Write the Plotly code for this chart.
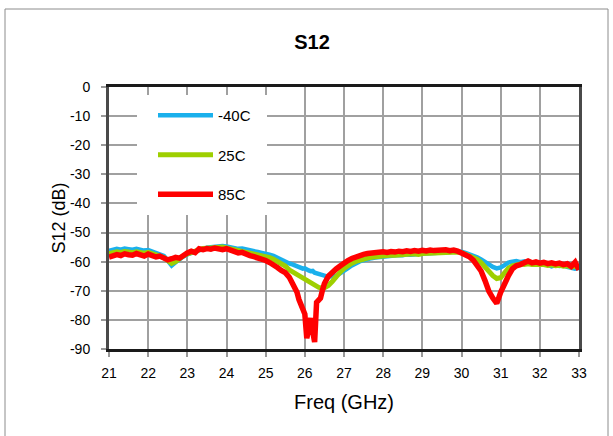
import plotly.graph_objects as go

freq_ghz = [
    21.0, 21.1, 21.2, 21.3, 21.4, 21.5, 21.6, 21.7, 21.8, 21.9,
    22.0, 22.1, 22.2, 22.3, 22.4, 22.5, 22.6, 22.7, 22.8, 22.9,
    23.0, 23.1, 23.2, 23.3, 23.4, 23.5, 23.6, 23.7, 23.8, 23.9,
    24.0, 24.1, 24.2, 24.3, 24.4, 24.5, 24.6, 24.7, 24.8, 24.9,
    25.0, 25.1, 25.2, 25.3, 25.4, 25.5, 25.6, 25.7, 25.8,
    25.85, 25.9, 25.95, 26.0, 26.05, 26.1, 26.15, 26.2, 26.25, 26.3, 26.35, 26.4, 26.45,
    26.5, 26.6, 26.7, 26.8, 26.9,
    27.0, 27.1, 27.2, 27.3, 27.4, 27.5, 27.6, 27.7, 27.8, 27.9,
    28.0, 28.1, 28.2, 28.3, 28.4, 28.5, 28.6, 28.7, 28.8, 28.9,
    29.0, 29.1, 29.2, 29.3, 29.4, 29.5, 29.6, 29.7, 29.8, 29.9,
    30.0, 30.1, 30.2, 30.3, 30.4, 30.5, 30.6, 30.7, 30.8, 30.9,
    31.0, 31.1, 31.2, 31.3, 31.4, 31.5, 31.6, 31.7, 31.8, 31.9,
    32.0, 32.1, 32.2, 32.3, 32.4, 32.5, 32.6, 32.7, 32.8, 32.9,
    33.0,
]

s12_m40c = [
    -56.3, -56.0, -55.6, -55.9, -55.5, -55.7, -55.9, -55.6, -56.0, -56.2,
    -56.0, -56.4, -56.8, -57.3, -58.0, -59.6, -61.3, -60.2, -59.0, -58.2,
    -57.5, -57.0, -56.3, -55.9, -55.4, -55.2, -55.0, -54.8, -54.9, -54.6,
    -54.8, -55.1, -55.3, -55.6, -55.5, -55.9, -56.2, -56.4, -56.7, -57.0,
    -57.2, -57.6, -58.0, -58.7, -59.2, -59.8, -60.6, -61.0, -61.6,
    -62.0, -62.2, -62.4, -62.3, -62.8, -63.0, -63.3, -63.2, -63.8, -64.0, -64.2, -64.4, -64.8,
    -64.6, -65.2, -65.0, -64.8, -64.0,
    -63.3, -62.2, -61.3, -60.5, -59.9, -59.5, -59.0, -58.8, -58.6, -58.4,
    -58.2, -58.0, -57.9, -57.8, -57.7, -57.8, -57.5, -57.6, -57.4, -57.5,
    -57.3, -57.2, -57.0, -57.1, -56.9, -56.8, -56.9, -56.7, -56.6, -56.5,
    -56.6, -57.0, -57.4, -57.9, -58.5, -59.2, -60.2, -61.0, -61.8, -62.3,
    -62.0, -61.2, -60.3, -60.0, -59.8, -60.2, -59.9, -60.4, -60.3, -60.6,
    -60.8, -60.7, -61.0, -61.6, -61.2, -61.5, -61.3, -61.8, -62.0, -62.4,
    -62.2,
]

s12_25c = [
    -57.2, -56.9, -56.6, -56.8, -56.5, -56.7, -56.9, -56.6, -56.9, -57.1,
    -56.8, -57.3, -57.6, -58.0, -58.6, -59.6, -60.6, -60.0, -58.8, -58.0,
    -57.3, -56.8, -56.2, -55.9, -55.5, -55.4, -55.2, -55.0, -55.1, -55.0,
    -55.3, -55.6, -55.9, -56.2, -56.3, -56.7, -57.0, -57.2, -57.5, -57.8,
    -58.1, -58.6, -59.2, -59.9, -60.6, -61.5, -62.8, -63.6, -64.4,
    -64.8, -65.5, -65.8, -66.2, -66.6, -66.9, -67.3, -67.6, -68.1, -68.5, -68.8, -69.0, -69.3,
    -69.0, -68.2, -66.8, -65.0, -63.6,
    -62.3, -61.3, -60.5, -59.9, -59.4, -59.0, -58.8, -58.5, -58.3, -58.2,
    -58.0, -57.9, -57.7, -57.8, -57.6, -57.5, -57.6, -57.4, -57.3, -57.5,
    -57.2, -57.1, -57.0, -57.1, -56.9, -56.8, -56.9, -56.7, -56.8, -56.7,
    -56.9, -57.4, -57.9, -58.4, -59.2, -60.3, -62.0, -63.6, -64.8, -65.8,
    -65.5, -63.8, -62.2, -61.4, -61.0, -60.8, -61.0, -60.7, -61.0, -60.9,
    -61.1, -61.0, -61.3, -61.1, -61.4, -61.2, -61.6, -61.4, -61.8, -61.6,
    -62.0,
]

s12_85c = [
    -58.4, -58.0, -57.6, -57.9, -57.3, -57.6, -57.8, -57.2, -57.6, -58.1,
    -57.4, -57.8, -58.4, -58.1, -58.9, -59.4, -59.0, -58.5, -58.8, -57.6,
    -57.0, -56.4, -56.9, -55.6, -55.9, -55.5, -55.7, -55.3, -55.6, -55.9,
    -55.5, -56.1, -56.4, -57.0, -56.8, -57.5, -57.9, -58.3, -58.6, -59.2,
    -59.6, -60.3, -61.0, -62.0, -63.0, -63.8, -65.3, -67.5, -70.5,
    -73.0, -75.2, -76.5, -78.0, -86.3, -81.0, -79.4, -84.0, -87.6, -74.0, -73.0, -72.5, -69.8,
    -67.5, -65.0, -63.6, -62.5, -61.5,
    -60.3, -59.6, -58.9, -58.3, -57.8, -57.5, -57.2, -57.0, -56.8, -57.0,
    -56.6, -56.8, -56.5, -56.7, -56.4, -56.6, -56.3, -56.5, -56.2, -56.4,
    -56.1, -56.3, -56.0, -56.2, -56.0, -56.1, -55.9, -56.2, -56.0, -56.4,
    -56.9, -57.6, -58.3, -59.5, -61.0, -63.2, -66.5, -70.2, -72.5, -74.3,
    -70.5, -67.0, -64.8, -62.5, -61.4, -61.0, -60.2, -59.8, -60.4, -60.1,
    -60.5, -60.2, -60.7, -60.4, -60.8, -60.5, -61.0, -60.7, -61.6, -60.2,
    -62.8,
]

series_names = ["-40C", "25C", "85C"]
series_values = [s12_m40c, s12_25c, s12_85c]
series_colors = ["#1AB0EC", "#9ECF00", "#FF0000"]
series_widths = [4.5, 5, 5.5]

x_ticks = [21, 22, 23, 24, 25, 26, 27, 28, 29, 30, 31, 32, 33]
y_ticks = [0, -10, -20, -30, -40, -50, -60, -70, -80, -90]

fig = go.Figure()
for i, (name, vals, col, w) in enumerate(zip(series_names, series_values, series_colors, series_widths)):
    fig.add_trace(go.Scatter(
        x=freq_ghz, y=vals, mode="lines", name=name,
        line=dict(color=col, width=w),
        legendgroup=f"g{i}",
    ))

font_family = "Liberation Sans, Arial, sans-serif"
L, R, T, B = 109, 579, 87, 349
W, H = 613, 436
pw, ph = R - L, B - T

fig.update_layout(
    width=W, height=H,
    margin=dict(l=L, r=W - R, t=T, b=H - B),
    paper_bgcolor="white", plot_bgcolor="white",
    font=dict(family=font_family, color="black", size=14),
    title=dict(text="<b>S12</b>", x=312 / W, xanchor="center", y=1 - 42 / H, yanchor="middle",
               font=dict(size=20, family=font_family, color="black")),
    showlegend=True,
    legend=dict(
        x=(153 - L) / pw, y=(B - 99) / ph, xanchor="left", yanchor="top",
        bgcolor="white", borderwidth=0,
        font=dict(size=15, family=font_family, color="black"),
        tracegroupgap=17, itemwidth=55,
    ),
    xaxis=dict(
        range=[21, 33], tickvals=x_ticks, ticktext=[str(v) for v in x_ticks],
        showgrid=True, gridcolor="#a0a0a0", gridwidth=2,
        showline=True, linecolor="#1a1a1a", linewidth=2.5, mirror=True,
        ticks="outside", ticklen=5, tickcolor="#999", tickwidth=2,
        tickfont=dict(size=14), zeroline=False, ticklabelstandoff=4,
        title=dict(text="Freq (GHz)", font=dict(size=20), standoff=16),
    ),
    yaxis=dict(
        range=[-90, 0], tickvals=y_ticks, ticktext=[str(v) for v in y_ticks],
        showgrid=True, gridcolor="#a0a0a0", gridwidth=2,
        showline=True, linecolor="#4a4a4a", linewidth=3, mirror=True,
        ticks="outside", ticklen=5, tickcolor="#999", tickwidth=2,
        tickfont=dict(size=14), zeroline=False, ticklabelstandoff=8,
        title=dict(text="S12 (dB)", font=dict(size=18), standoff=0),
    ),
    shapes=[
        dict(type="rect", xref="paper", yref="paper",
             x0=(5 - L) / pw, x1=(608 - L) / pw,
             y0=(B - 445) / ph, y1=(B - 9) / ph,
             line=dict(color="#8c8c8c", width=1), fillcolor="rgba(0,0,0,0)",
             layer="below"),
        # white background box behind the legend
        dict(type="rect", xref="paper", yref="paper",
             x0=(137 - L) / pw, x1=(267 - L) / pw,
             y0=(B - 215) / ph, y1=(B - 95) / ph,
             line=dict(width=0), fillcolor="white", layer="above"),
    ],
)

fig.write_html("out.html", config={"displayModeBar": False},
               post_script="document.body.style.margin='0';")
